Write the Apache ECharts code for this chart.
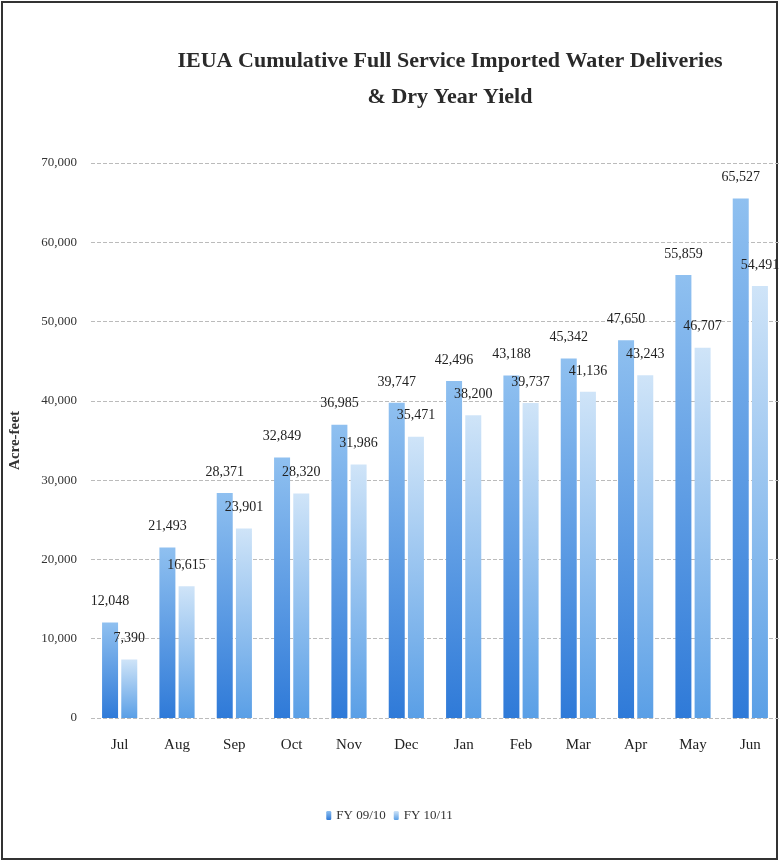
<!DOCTYPE html>
<html><head><meta charset="utf-8">
<script src="https://cdn.jsdelivr.net/npm/echarts@6/dist/echarts.min.js"></script>
<style>html,body{margin:0;padding:0;background:#fff}#c{width:779px;height:861px}</style>
</head><body><div id="c"></div>
<script>
const months = ['Jul','Aug','Sep','Oct','Nov','Dec','Jan','Feb','Mar','Apr','May','Jun'];
const fy0910 = [12048,21493,28371,32849,36985,39747,42496,43188,45342,47650,55859,65527];
const fy1011 = [7390,16615,23901,28320,31986,35471,38200,39737,41136,43243,46707,54491];
const yTicks = [0,10000,20000,30000,40000,50000,60000,70000];

const serif = 'Liberation Serif';
function grad(top, bottom){
  return new echarts.graphic.LinearGradient(0,0,0,1,[{offset:0,color:top},{offset:1,color:bottom}]);
}
const chart = echarts.init(document.getElementById('c'));
chart.setOption({
  backgroundColor:'#fff',
  title:{
    text:'IEUA Cumulative Full Service Imported Water Deliveries\n& Dry Year Yield',
    left:445, top:38, textAlign:'center',
    textStyle:{fontFamily:serif,fontWeight:'bold',fontSize:22,color:'#2a2a2a',lineHeight:36}
  },
  legend:{
    bottom:34, left:'center', itemWidth:5, itemHeight:9, itemGap:8,
    textStyle:{fontFamily:serif,fontSize:13,color:'#333'},
    data:['FY 09/10','FY 10/11']
  },
  grid:{left:90,right:0,top:163,bottom:143},
  xAxis:{
    type:'category', data:months,
    axisLine:{show:false}, axisTick:{show:false},
    axisLabel:{fontFamily:serif,fontSize:15,color:'#222',margin:20}
  },
  yAxis:{
    type:'value', min:0, max:70000, interval:10000,
    name:'Acre-feet', nameLocation:'middle', nameGap:68, nameRotate:90,
    nameTextStyle:{fontFamily:serif,fontWeight:'bold',fontSize:15,color:'#333'},
    axisLabel:{fontFamily:serif,fontSize:13,color:'#333',margin:14,
      formatter:v=>v.toLocaleString('en-US')},
    splitLine:{lineStyle:{type:'dashed',color:'#bbb'}}
  },
  series:[
    {name:'FY 09/10',type:'bar',data:fy0910,barWidth:16,barGap:'20%',
     itemStyle:{color:grad('#8fc0f0','#2f7ad8')},
     label:{show:true,position:'top',distance:14,fontFamily:serif,fontSize:14,color:'#222',
       formatter:p=>p.value.toLocaleString('en-US')}},
    {name:'FY 10/11',type:'bar',data:fy1011,barWidth:16,
     itemStyle:{color:grad('#cfe4f8','#5a9fe6')},
     label:{show:true,position:'top',distance:14,fontFamily:serif,fontSize:14,color:'#222',
       formatter:p=>p.value.toLocaleString('en-US')}}
  ],
  graphic:[
    {type:'rect',shape:{x:2,y:2,width:775,height:857},style:{fill:'none',stroke:'#333',lineWidth:2}}
  ]
});
</script></body></html>
